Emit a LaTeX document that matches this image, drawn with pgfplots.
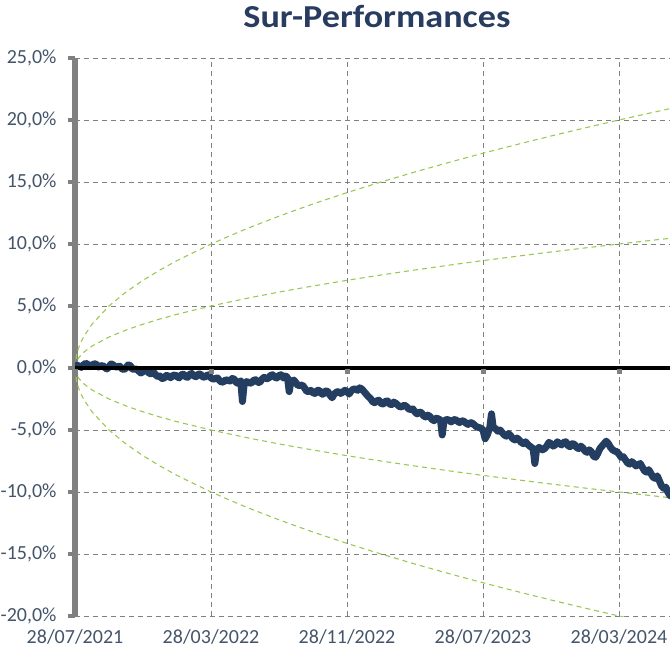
\documentclass[border=0pt]{standalone}
\usepackage{fontspec}
\setmainfont{Carlito}
\usepackage{pgfplots}
\pgfplotsset{compat=1.18}
\definecolor{txtblue}{RGB}{68,84,106}
\definecolor{titleblue}{RGB}{40,60,95}
\definecolor{lineblue}{RGB}{36,62,98}
\definecolor{funnel}{RGB}{155,200,85}
\pgfplotstableread{
t v
0 0.00
0.125 0.22
0.25 0.15
0.375 0.05
0.5 0.25
0.625 0.38
0.75 0.30
0.875 0.10
1.0 0.20
1.125 0.35
1.25 0.30
1.375 0.08
1.5 0.15
1.625 0.20
1.75 0.05
1.875 -0.08
2.0 0.10
2.125 0.33
2.25 0.25
2.375 0.08
2.5 0.10
2.625 0.15
2.75 -0.05
2.875 -0.13
3.0 0.00
3.125 0.25
3.25 0.20
3.375 -0.10
3.5 -0.10
3.625 -0.08
3.75 -0.25
3.875 -0.40
4.0 -0.30
4.125 -0.15
4.25 -0.20
4.375 -0.45
4.5 -0.45
4.625 -0.35
4.75 -0.55
4.875 -0.70
5.0 -0.65
5.125 -0.85
5.25 -0.80
5.375 -0.60
5.5 -0.65
5.625 -0.78
5.75 -0.62
5.875 -0.55
6.0 -0.70
6.125 -0.80
6.25 -0.55
6.375 -0.50
6.5 -0.70
6.625 -0.75
6.75 -0.50
6.875 -0.45
7.0 -0.65
7.125 -0.70
7.25 -0.50
7.375 -0.48
7.5 -0.70
7.625 -0.75
7.75 -0.60
7.875 -0.55
8.0 -0.80
8.125 -0.90
8.25 -0.85
8.375 -0.80
8.5 -1.00
8.625 -1.15
8.75 -1.10
8.875 -0.95
9.0 -1.00
9.125 -1.05
9.25 -0.85
9.375 -0.90
9.5 -1.20
9.625 -1.23
9.75 -1.05
9.85 -2.70
9.95 -1.30
10.1 -1.10
10.25 -1.20
10.375 -1.22
10.5 -1.00
10.625 -0.95
10.75 -1.15
10.875 -1.15
11.0 -0.90
11.125 -0.75
11.25 -0.85
11.375 -0.85
11.5 -0.60
11.625 -0.55
11.75 -0.75
11.875 -0.80
12.0 -0.60
12.125 -0.55
12.25 -0.80
12.375 -0.65
12.5 -0.75
12.6 -1.90
12.7 -1.10
12.875 -0.98
13.0 -1.20
13.125 -1.42
13.25 -1.40
13.375 -1.38
13.5 -1.60
13.625 -1.87
13.75 -1.90
13.875 -1.80
14.0 -2.00
14.125 -2.05
14.25 -1.80
14.375 -1.80
14.5 -2.10
14.625 -2.10
14.75 -1.85
14.875 -1.90
15.0 -2.20
15.125 -2.40
15.25 -2.10
15.375 -1.95
15.5 -1.90
15.625 -2.05
15.75 -1.95
15.875 -1.80
16.0 -1.90
16.125 -2.10
16.25 -1.85
16.375 -1.70
16.5 -1.70
16.625 -1.80
16.75 -1.60
16.875 -1.70
17.0 -1.90
17.125 -2.10
17.25 -2.30
17.375 -2.45
17.5 -2.70
17.625 -2.80
17.75 -2.65
17.875 -2.60
18.0 -2.85
18.125 -2.90
18.25 -2.70
18.375 -2.65
18.5 -2.90
18.625 -2.95
18.75 -2.75
18.875 -2.85
19.0 -3.00
19.125 -3.15
19.25 -3.10
19.375 -3.00
19.5 -3.10
19.625 -3.30
19.75 -3.35
19.875 -3.30
20.0 -3.55
20.125 -3.70
20.25 -3.55
20.375 -3.60
20.5 -3.85
20.625 -3.95
20.75 -3.80
20.875 -3.90
21.0 -4.15
21.125 -4.25
21.25 -4.05
21.375 -4.10
21.5 -4.20
21.6 -5.40
21.7 -4.30
21.85 -4.15
22.0 -4.20
22.125 -4.35
22.25 -4.20
22.375 -4.15
22.5 -4.30
22.625 -4.40
22.75 -4.25
22.875 -4.30
23.0 -4.45
23.125 -4.55
23.25 -4.40
23.375 -4.45
23.5 -4.60
23.625 -4.75
23.75 -4.80
23.875 -4.85
24.0 -5.00
24.125 -5.70
24.25 -5.40
24.4 -4.80
24.5 -3.70
24.6 -4.80
24.75 -4.90
24.875 -5.10
25.0 -5.00
25.125 -5.20
25.25 -5.40
25.375 -5.50
25.5 -5.30
25.625 -5.45
25.75 -5.70
25.875 -5.80
26.0 -5.65
26.125 -5.80
26.25 -6.00
26.375 -6.10
26.5 -5.95
26.625 -6.15
26.75 -6.30
26.85 -6.40
26.95 -6.50
27.05 -7.70
27.15 -6.60
27.3 -6.40
27.5 -6.60
27.625 -6.50
27.75 -6.30
27.875 -6.00
28.0 -6.10
28.125 -6.30
28.25 -6.20
28.375 -5.95
28.5 -6.10
28.625 -6.20
28.75 -6.00
28.875 -5.95
29.0 -6.25
29.125 -6.35
29.25 -6.10
29.375 -6.15
29.5 -6.40
29.625 -6.50
29.75 -6.30
29.875 -6.45
30.0 -6.70
30.125 -6.80
30.25 -6.60
30.375 -6.75
30.5 -7.10
30.625 -7.20
30.75 -6.90
30.875 -6.50
31.0 -6.30
31.125 -6.10
31.25 -5.90
31.375 -6.10
31.5 -6.40
31.625 -6.60
31.75 -6.70
31.875 -6.75
32.0 -6.95
32.125 -7.20
32.25 -7.15
32.375 -7.40
32.5 -7.65
32.625 -7.75
32.75 -7.55
32.875 -7.70
33.0 -7.90
33.125 -7.80
33.25 -7.70
33.375 -8.00
33.5 -8.30
33.625 -8.40
33.75 -8.20
33.875 -8.50
34.0 -8.80
34.125 -8.90
34.25 -8.70
34.375 -9.10
34.5 -9.50
34.625 -9.70
34.75 -9.60
34.875 -10.00
35.0 -10.30
}\surperf
\begin{document}
\begin{tikzpicture}
\begin{axis}[
  at={(0,0)}, anchor=south west,
  scale only axis, width=595pt, height=558pt,
  xmin=0, xmax=35, ymin=-20, ymax=25,
  axis lines*=left,
  x axis line style={draw=none},
  y axis line style={line width=6pt, draw=gray},
  xtick={0,8,16,24,32},
  xticklabels={28/07/2021,28/03/2022,28/11/2022,28/07/2023,28/03/2024},
  ytick={-20,-15,...,25},
  yticklabels={{-20,0\%},{-15,0\%},{-10,0\%},{-5,0\%},{0,0\%},{5,0\%},{10,0\%},{15,0\%},{20,0\%},{25,0\%}},
  xtick style={draw=none},
  ytick style={draw=gray, line width=4pt},
  major tick length=7pt, tick align=outside,
  grid=major,
  major grid style={draw=gray, line width=0.9pt, dash pattern=on 5pt off 4pt},
  tick label style={font=\fontsize{20}{24}\selectfont, text=txtblue},
  xticklabel style={yshift=-3pt},
  yticklabel style={xshift=-8pt},
]
% outer funnel
\addplot[funnel, line width=1.1pt, dash pattern=on 5pt off 4pt] coordinates {
(0,0) (0.1,1.118) (0.25,1.768) (0.5,2.5) (1,3.536) (2,5.0) (3,6.124) (4,7.071) (5,7.906) (6,8.660) (8,10) (10,11.18) (12,12.247) (14,13.229) (16,14.142) (18,15.0) (20,15.811) (22,16.583) (24,17.321) (26,18.028) (28,18.708) (30,19.365) (32,20) (34,20.616) (35,20.917)};
\addplot[funnel, line width=1.1pt, dash pattern=on 5pt off 4pt] coordinates {
(0,0) (0.1,-1.118) (0.25,-1.768) (0.5,-2.5) (1,-3.536) (2,-5.0) (3,-6.124) (4,-7.071) (5,-7.906) (6,-8.660) (8,-10) (10,-11.18) (12,-12.247) (14,-13.229) (16,-14.142) (18,-15.0) (20,-15.811) (22,-16.583) (24,-17.321) (26,-18.028) (28,-18.708) (30,-19.365) (32,-20) (34,-20.616) (35,-20.917)};
% inner funnel
\addplot[funnel, line width=1.1pt, dash pattern=on 5pt off 4pt] coordinates {
(0,0) (0.1,0.559) (0.25,0.884) (0.5,1.25) (1,1.768) (2,2.5) (3,3.062) (4,3.536) (5,3.953) (6,4.330) (8,5) (10,5.59) (12,6.124) (14,6.614) (16,7.071) (18,7.5) (20,7.906) (22,8.292) (24,8.660) (26,9.014) (28,9.354) (30,9.682) (32,10) (34,10.308) (35,10.458)};
\addplot[funnel, line width=1.1pt, dash pattern=on 5pt off 4pt] coordinates {
(0,0) (0.1,-0.559) (0.25,-0.884) (0.5,-1.25) (1,-1.768) (2,-2.5) (3,-3.062) (4,-3.536) (5,-3.953) (6,-4.330) (8,-5) (10,-5.59) (12,-6.124) (14,-6.614) (16,-7.071) (18,-7.5) (20,-7.906) (22,-8.292) (24,-8.660) (26,-9.014) (28,-9.354) (30,-9.682) (32,-10) (34,-10.308) (35,-10.458)};
% sur-performance
\addplot[lineblue, line width=7pt, line join=round, line cap=round] table[x=t, y=v] {\surperf};
% x-axis tick marks on the zero line
\addplot[only marks, mark=square*, gray, mark size=2pt, mark options={yshift=-3pt}] coordinates {(0,0) (8,0) (16,0) (24,0) (32,0)};
% zero line
\addplot[black, line width=4.5pt] coordinates {(0,0) (35,0)};
\end{axis}
\node[anchor=base, text=titleblue] at (302pt,588pt) {\scalebox{1.13}[1]{\fontsize{32}{36}\selectfont\bfseries Sur-Performances}};
\pgfresetboundingbox
\path[use as bounding box] (-75pt,-38pt) rectangle (595pt,616pt);
\end{tikzpicture}
\end{document}
